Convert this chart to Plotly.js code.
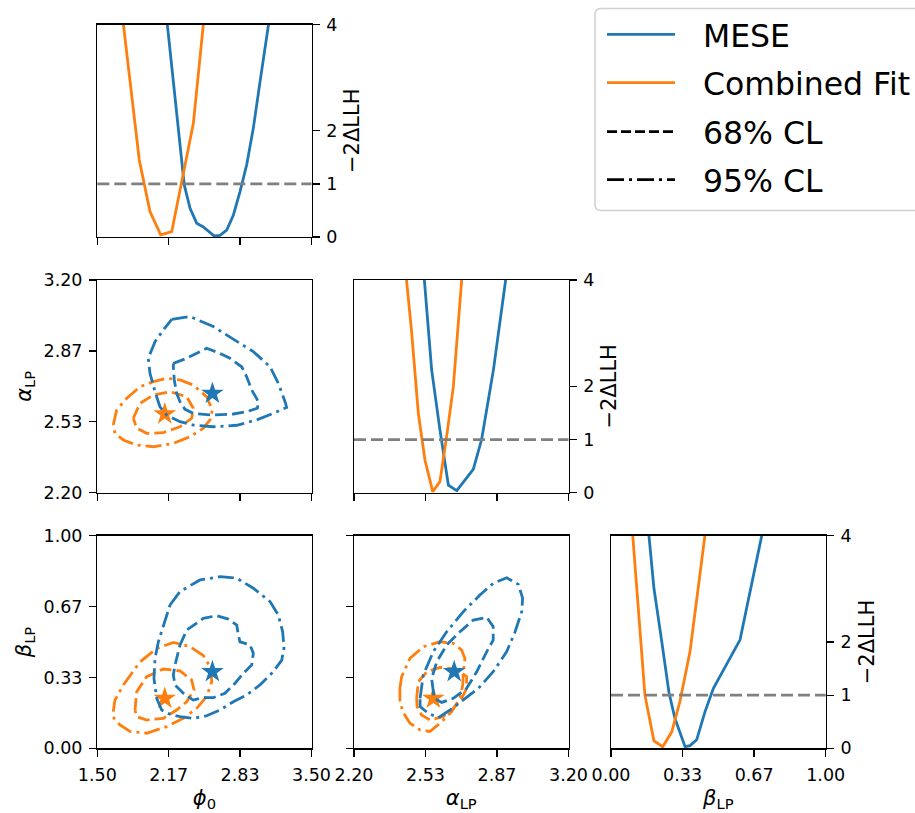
<!DOCTYPE html>
<html>
<head>
<meta charset="utf-8">
<script src="https://cdn.plot.ly/plotly-3.0.1.min.js"></script>
<style>html,body{margin:0;padding:0;background:#fff;}#plot{width:915px;height:813px;}</style>
</head>
<body>
<div id="plot"></div>
<script>
// ---------- 1D profiles: -2ΔLLH ----------
const phi0_mese      = [2.125, 2.19, 2.25, 2.312, 2.366, 2.428, 2.49, 2.55, 2.59, 2.646, 2.708, 2.77, 2.832, 2.895, 2.957, 3.02, 3.097, 3.15];
const llh_phi0_mese  = [4.55, 3.3, 2.17, 0.98, 0.54, 0.26, 0.19, 0.08, 0.02, 0.03, 0.13, 0.41, 0.85, 1.36, 2.05, 2.93, 4.0, 4.7];
const phi0_comb      = [1.7, 1.805, 1.892, 1.992, 2.092, 2.195, 2.3, 2.397, 2.5];
const llh_phi0_comb  = [4.75, 2.92, 1.45, 0.48, 0.04, 0.1, 1.15, 2.14, 4.2];

const alpha_mese     = [2.52, 2.562, 2.60, 2.640, 2.679, 2.717, 2.756, 2.795, 2.85, 2.907, 2.93];
const llh_alpha_mese = [4.4, 2.31, 1.2, 0.14, 0.04, 0.24, 0.44, 1.0, 2.31, 4.0, 4.8];
const alpha_comb     = [2.43, 2.467, 2.50, 2.531, 2.567, 2.601, 2.634, 2.663, 2.702, 2.72];
const llh_alpha_comb = [4.6, 3.1, 1.49, 0.61, 0.02, 0.21, 1.12, 1.99, 4.0, 5.0];

const beta_mese      = [0.165, 0.200, 0.235, 0.270, 0.298, 0.345, 0.368, 0.399, 0.438, 0.477, 0.601, 0.702, 0.715];
const llh_beta_mese  = [4.5, 3.01, 2.05, 1.05, 0.56, 0.03, 0.05, 0.16, 0.69, 1.13, 2.04, 4.0, 4.4];
const beta_comb      = [0.09, 0.12, 0.158, 0.200, 0.241, 0.283, 0.321, 0.368, 0.40, 0.438, 0.45];
const llh_beta_comb  = [4.6, 3.0, 1.0, 0.14, 0.03, 0.31, 0.88, 1.82, 2.8, 4.0, 4.4];

const llh_threshold = 1;

// ---------- 2D contours ----------
// phi0 vs alpha
const pa_mese95_x = [2.195, 2.366, 2.583, 2.739, 2.957, 3.113, 3.190, 3.253, 3.268, 3.143, 2.988, 2.802, 2.583, 2.396, 2.272, 2.148, 2.085, 2.039, 1.992, 1.976, 2.039, 2.116];
const pa_mese95_y = [3.015, 3.028, 2.981, 2.933, 2.863, 2.792, 2.714, 2.628, 2.601, 2.573, 2.542, 2.517, 2.510, 2.518, 2.534, 2.565, 2.604, 2.675, 2.761, 2.832, 2.910, 2.965];
const pa_mese68_x = [2.210, 2.335, 2.521, 2.646, 2.739, 2.848, 2.895, 2.942, 3.004, 2.995, 2.895, 2.770, 2.583, 2.396, 2.319, 2.272, 2.241, 2.219, 2.210];
const pa_mese68_y = [2.808, 2.832, 2.879, 2.855, 2.832, 2.792, 2.745, 2.683, 2.628, 2.597, 2.581, 2.570, 2.565, 2.573, 2.592, 2.628, 2.667, 2.730, 2.792];
const pa_comb95_x = [1.649, 1.681, 1.775, 1.899, 2.023, 2.148, 2.272, 2.396, 2.521, 2.574, 2.552, 2.490, 2.366, 2.210, 2.023, 1.868, 1.743, 1.665];
const pa_comb95_y = [2.518, 2.589, 2.644, 2.698, 2.722, 2.738, 2.730, 2.706, 2.651, 2.589, 2.542, 2.503, 2.463, 2.432, 2.416, 2.424, 2.448, 2.479];
const pa_comb68_x = [1.836, 1.899, 2.023, 2.179, 2.335, 2.396, 2.381, 2.272, 2.116, 1.961, 1.868];
const pa_comb68_y = [2.550, 2.620, 2.659, 2.675, 2.651, 2.597, 2.550, 2.510, 2.482, 2.479, 2.503];

// phi0 vs beta
const pb_mese95_x = [2.179, 2.272, 2.459, 2.646, 2.802, 2.957, 3.113, 3.190, 3.231, 3.243, 3.222, 3.143, 3.019, 2.895, 2.770, 2.646, 2.521, 2.396, 2.272, 2.179, 2.101, 2.055, 2.029, 2.039, 2.070, 2.132];
const pb_mese95_y = [0.674, 0.737, 0.792, 0.807, 0.800, 0.753, 0.690, 0.627, 0.548, 0.470, 0.415, 0.360, 0.298, 0.251, 0.219, 0.180, 0.153, 0.141, 0.149, 0.160, 0.180, 0.235, 0.329, 0.423, 0.501, 0.595];
const pb_mese68_x = [2.272, 2.335, 2.490, 2.614, 2.723, 2.802, 2.817, 2.832, 2.926, 2.957, 2.942, 2.864, 2.786, 2.692, 2.583, 2.490, 2.396, 2.303, 2.226, 2.210, 2.226, 2.256];
const pb_mese68_y = [0.486, 0.556, 0.611, 0.624, 0.608, 0.580, 0.533, 0.501, 0.486, 0.447, 0.392, 0.353, 0.306, 0.259, 0.238, 0.238, 0.227, 0.259, 0.298, 0.345, 0.392, 0.447];
const pb_comb95_x = [1.649, 1.665, 1.743, 1.899, 2.055, 2.210, 2.366, 2.490, 2.562, 2.568, 2.521, 2.428, 2.303, 2.148, 1.961, 1.805, 1.712, 1.656];
const pb_comb95_y = [0.172, 0.227, 0.298, 0.407, 0.470, 0.498, 0.478, 0.436, 0.376, 0.313, 0.243, 0.188, 0.141, 0.102, 0.071, 0.079, 0.110, 0.141];
const pb_comb68_x = [1.852, 1.868, 1.961, 2.116, 2.272, 2.381, 2.403, 2.335, 2.241, 2.116, 1.961, 1.868];
const pb_comb68_y = [0.180, 0.266, 0.337, 0.373, 0.364, 0.321, 0.274, 0.219, 0.180, 0.141, 0.133, 0.149];

// alpha vs beta
const ab_mese95_x = [2.508, 2.523, 2.570, 2.632, 2.710, 2.787, 2.849, 2.912, 2.966, 2.986, 2.982, 2.951, 2.912, 2.849, 2.780, 2.710, 2.648, 2.593, 2.546, 2.508];
const ab_mese95_y = [0.235, 0.345, 0.455, 0.548, 0.643, 0.721, 0.776, 0.802, 0.771, 0.706, 0.643, 0.548, 0.455, 0.360, 0.282, 0.227, 0.180, 0.144, 0.165, 0.196];
const ab_mese68_x = [2.570, 2.562, 2.586, 2.632, 2.694, 2.756, 2.819, 2.849, 2.849, 2.819, 2.772, 2.725, 2.663, 2.609, 2.573];
const ab_mese68_y = [0.266, 0.329, 0.407, 0.486, 0.548, 0.603, 0.616, 0.572, 0.509, 0.455, 0.360, 0.282, 0.235, 0.216, 0.235];
const ab_comb95_x = [2.414, 2.422, 2.461, 2.523, 2.601, 2.663, 2.702, 2.717, 2.710, 2.707, 2.694, 2.655, 2.609, 2.554, 2.508, 2.461, 2.427, 2.414];
const ab_comb95_y = [0.282, 0.337, 0.423, 0.478, 0.501, 0.494, 0.462, 0.423, 0.360, 0.298, 0.235, 0.172, 0.125, 0.079, 0.086, 0.118, 0.172, 0.227];
const ab_comb68_x = [2.492, 2.500, 2.539, 2.601, 2.679, 2.725, 2.725, 2.702, 2.663, 2.616, 2.554, 2.515, 2.494];
const ab_comb68_y = [0.235, 0.313, 0.360, 0.381, 0.373, 0.337, 0.282, 0.235, 0.188, 0.149, 0.133, 0.157, 0.196];

// best fits [MESE, Combined Fit]
const bf_phi0  = [2.575, 2.13];
const bf_alpha = [2.667, 2.57];
const bf_beta  = [0.36, 0.235];

// ticks
const phi_ticks   = [1.5, 2.1667, 2.8333, 3.5];
const phi_labels  = ['1.50', '2.17', '2.83', '3.50'];
const alpha_ticks = [2.2, 2.5333, 2.8667, 3.2];
const alpha_labels= ['2.20', '2.53', '2.87', '3.20'];
const beta_ticks  = [0, 0.3333, 0.6667, 1.0];
const beta_labels = ['0.00', '0.33', '0.67', '1.00'];
const llh_ticks   = [0, 1, 2, 4];
const llh_labels  = ['0', '1', '2', '4'];

// legend
const legend_labels = ['MESE', 'Combined Fit', '68% CL', '95% CL'];

const BLUE = '#1f77b4', ORANGE = '#ff7f0e';
const LW = 2.8;
const DASH68 = '12px,5px';
const DASH95 = '16px,5px,3px,5px';
const FONT = 'DejaVu Sans';
const legend_colors = [BLUE, ORANGE, '#000', '#000'];
const legend_dashes = ['solid', 'solid', '10px,4px', '17px,5px,3px,5px'];

function closed(a){ return a.concat([a[0]]); }

const traces = [];
function prof(x, y, xa, ya, color, name){
  traces.push({type:'scatter', mode:'lines', x:x, y:y, xaxis:xa, yaxis:ya,
    line:{color:color, width:LW}, name:name, showlegend:false, hoverinfo:'skip'});
}
function cont(x, y, xa, ya, color, dash){
  traces.push({type:'scatter', mode:'lines', x:closed(x), y:closed(y), xaxis:xa, yaxis:ya,
    line:{color:color, width:LW, dash:dash}, showlegend:false, hoverinfo:'skip'});
}
function star(x, y, xa, ya, color){
  traces.push({type:'scatter', mode:'markers', x:[x], y:[y], xaxis:xa, yaxis:ya,
    marker:{symbol:'star', size:17, color:color, line:{width:0}}, showlegend:false, hoverinfo:'skip'});
}

// 1D panels
prof(phi0_mese, llh_phi0_mese, 'x', 'y', BLUE, 'MESE');
prof(phi0_comb, llh_phi0_comb, 'x', 'y', ORANGE, 'Combined Fit');
prof(alpha_mese, llh_alpha_mese, 'x3', 'y3', BLUE, 'MESE');
prof(alpha_comb, llh_alpha_comb, 'x3', 'y3', ORANGE, 'Combined Fit');
prof(beta_mese, llh_beta_mese, 'x6', 'y6', BLUE, 'MESE');
prof(beta_comb, llh_beta_comb, 'x6', 'y6', ORANGE, 'Combined Fit');

// phi0-alpha
cont(pa_comb95_x, pa_comb95_y, 'x2', 'y2', ORANGE, DASH95);
cont(pa_comb68_x, pa_comb68_y, 'x2', 'y2', ORANGE, DASH68);
star(bf_phi0[1], bf_alpha[1], 'x2', 'y2', ORANGE);
cont(pa_mese95_x, pa_mese95_y, 'x2', 'y2', BLUE, DASH95);
cont(pa_mese68_x, pa_mese68_y, 'x2', 'y2', BLUE, DASH68);
star(bf_phi0[0], bf_alpha[0], 'x2', 'y2', BLUE);
// phi0-beta
cont(pb_comb95_x, pb_comb95_y, 'x4', 'y4', ORANGE, DASH95);
cont(pb_comb68_x, pb_comb68_y, 'x4', 'y4', ORANGE, DASH68);
star(bf_phi0[1], bf_beta[1], 'x4', 'y4', ORANGE);
cont(pb_mese95_x, pb_mese95_y, 'x4', 'y4', BLUE, DASH95);
cont(pb_mese68_x, pb_mese68_y, 'x4', 'y4', BLUE, DASH68);
star(bf_phi0[0], bf_beta[0], 'x4', 'y4', BLUE);
// alpha-beta
cont(ab_comb95_x, ab_comb95_y, 'x5', 'y5', ORANGE, DASH95);
cont(ab_comb68_x, ab_comb68_y, 'x5', 'y5', ORANGE, DASH68);
star(bf_alpha[1], bf_beta[1], 'x5', 'y5', ORANGE);
cont(ab_mese95_x, ab_mese95_y, 'x5', 'y5', BLUE, DASH95);
cont(ab_mese68_x, ab_mese68_y, 'x5', 'y5', BLUE, DASH68);
star(bf_alpha[0], bf_beta[0], 'x5', 'y5', BLUE);

const W = 915, H = 813;
const col = [[97.3, 311.5], [354, 568.5], [611, 825.7]].map(c => [c[0]/W, c[1]/W]);
const row = [[24.5, 237], [280, 492.7], [535.7, 748.3]].map(r => [1 - r[1]/H, 1 - r[0]/H]);

const tickFont = {family:FONT, size:17.5, color:'#000'};
const titleFont = {family:FONT, size:21, color:'#000'};
function ax(o){
  return Object.assign({showline:true, linecolor:'#000', linewidth:1.3, mirror:true, ticks:'outside',
    ticklen:7, tickwidth:1.3, tickcolor:'#000', showgrid:false, zeroline:false, tickfont:tickFont,
    automargin:false, fixedrange:true, tickmode:'array', ticklabelstandoff:3}, o);
}
const llhTitle = {text:'−2ΔLLH', font:titleFont, standoff:8};

// legend drawn as box + sample lines + text
const px = v => v / W, py = v => 1 - v / H;
const legL = 595, legT = 8.5, legB = 210.5, legR = W + 20, rad = 6;
const shapes = [];
shapes.push({type:'path', xref:'paper', yref:'paper', layer:'above',
  path: `M${px(legL+rad)},${py(legT)} L${px(legR)},${py(legT)} L${px(legR)},${py(legB)} L${px(legL+rad)},${py(legB)} ` +
        `Q${px(legL)},${py(legB)} ${px(legL)},${py(legB-rad)} L${px(legL)},${py(legT+rad)} Q${px(legL)},${py(legT)} ${px(legL+rad)},${py(legT)} Z`,
  fillcolor:'rgba(255,255,255,0.8)', line:{color:'#d0d0d0', width:1.5}});
const legRowY = [34.3, 82.7, 131.7, 179.7];
const annotations = [];
legend_labels.forEach((lab, i) => {
  shapes.push({type:'line', xref:'paper', yref:'paper', layer:'above', x0:px(607), x1:px(675),
    y0:py(legRowY[i]), y1:py(legRowY[i]), line:{color:legend_colors[i], width:LW, dash:legend_dashes[i]}});
  annotations.push({xref:'paper', yref:'paper', x:px(701), y:py(legRowY[i] + 1.5), xanchor:'left', yanchor:'middle',
    text:lab, showarrow:false, font:{family:FONT, size:31.5, color:'#000'}});
});
['y', 'y3', 'y6'].forEach((ya, i) => shapes.push({type:'line', xref:['x','x3','x6'][i] + ' domain', x0:0, x1:1,
    yref:ya, y0:llh_threshold, y1:llh_threshold, line:{color:'#808080', width:LW, dash:'12px,5px'}, layer:'above'}));

const layout = {
  width:W, height:H, margin:{l:0, r:0, t:0, b:0}, paper_bgcolor:'#fff', plot_bgcolor:'#fff',
  font:{family:FONT, color:'#000'},
  showlegend:false,
  xaxis:  ax({domain:col[0], anchor:'y',  range:[1.5,3.5], tickvals:phi_ticks, showticklabels:false}),
  yaxis:  ax({domain:row[0], anchor:'x',  range:[0,4], side:'right', tickvals:llh_ticks, ticktext:llh_labels, title:llhTitle}),
  xaxis2: ax({domain:col[0], anchor:'y2', range:[1.5,3.5], tickvals:phi_ticks, showticklabels:false}),
  yaxis2: ax({domain:row[1], anchor:'x2', range:[2.2,3.2], tickvals:alpha_ticks, ticktext:alpha_labels,
    title:{text:'<i>α</i><sub>LP</sub>', font:titleFont, standoff:6}}),
  xaxis3: ax({domain:col[1], anchor:'y3', range:[2.2,3.2], tickvals:alpha_ticks, showticklabels:false}),
  yaxis3: ax({domain:row[1], anchor:'x3', range:[0,4], side:'right', tickvals:llh_ticks, ticktext:llh_labels, title:llhTitle}),
  xaxis4: ax({domain:col[0], anchor:'y4', range:[1.5,3.5], tickvals:phi_ticks, ticktext:phi_labels,
    title:{text:'<i>ϕ</i><sub>0</sub>', font:titleFont, standoff:6}}),
  yaxis4: ax({domain:row[2], anchor:'x4', range:[0,1], tickvals:beta_ticks, ticktext:beta_labels,
    title:{text:'<i>β</i><sub>LP</sub>', font:titleFont, standoff:6}}),
  xaxis5: ax({domain:col[1], anchor:'y5', range:[2.2,3.2], tickvals:alpha_ticks, ticktext:alpha_labels,
    title:{text:'<i>α</i><sub>LP</sub>', font:titleFont, standoff:6}}),
  yaxis5: ax({domain:row[2], anchor:'x5', range:[0,1], tickvals:beta_ticks, showticklabels:false}),
  xaxis6: ax({domain:col[2], anchor:'y6', range:[0,1], tickvals:beta_ticks, ticktext:beta_labels,
    title:{text:'<i>β</i><sub>LP</sub>', font:titleFont, standoff:6}}),
  yaxis6: ax({domain:row[2], anchor:'x6', range:[0,4], side:'right', tickvals:llh_ticks, ticktext:llh_labels, title:llhTitle}),
  shapes: shapes,
  annotations: annotations
};

Plotly.newPlot('plot', traces, layout, {displayModeBar:false, staticPlot:true});
</script>
</body>
</html>
